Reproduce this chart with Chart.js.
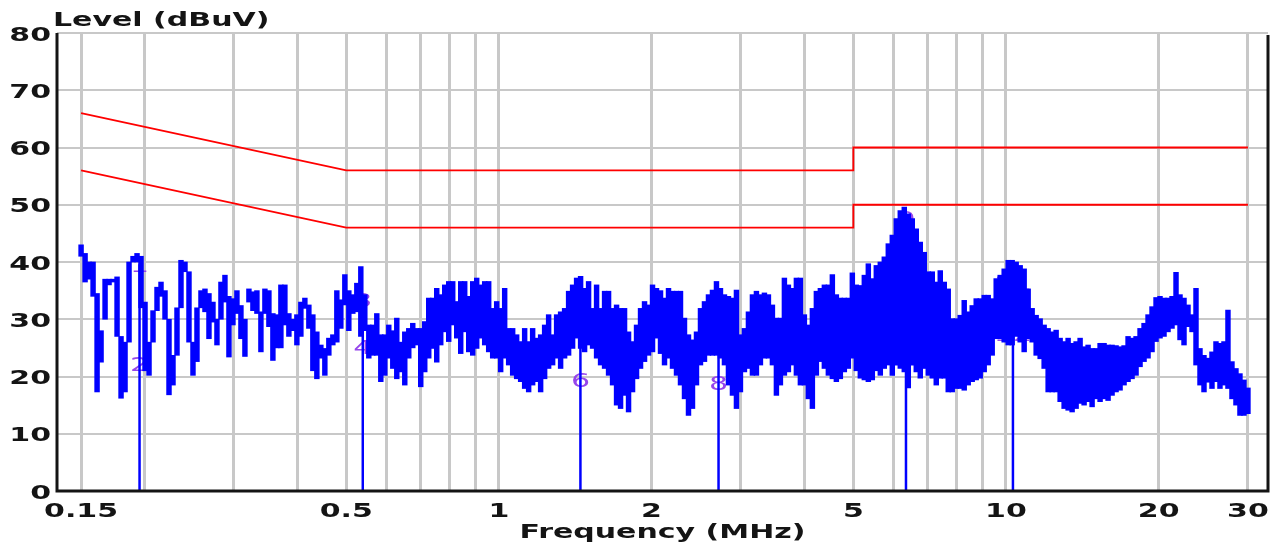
<!DOCTYPE html>
<html>
<head>
<meta charset="utf-8">
<title>Conducted emission scan</title>
<script src="https://cdn.jsdelivr.net/npm/chart.js@4.4.1/dist/chart.umd.min.js"></script>
<style>
  html, body { margin: 0; padding: 0; background: #fff; }
  #wrap { width: 1278px; height: 544px; }
</style>
</head>
<body>
<div id="wrap"><canvas id="scan" width="1278" height="544"></canvas></div>
<script>
// receiver sweep, MHz (log stepped)
var sweepStart = 0.15;
var sweepStop = 30;

// peak detector trace: max / min level of every sweep step, dBuV
var peakHi = [
  43, 41.5, 40, 40, 34.5, 28, 37, 37, 37, 37.4,
  27, 26, 40, 41, 41.5, 41, 33, 26, 31.5, 35.6,
  36.5, 35, 30, 23.7, 32, 40.3, 40, 38.3, 26, 32,
  35, 35.3, 34.5, 33, 30, 36.5, 37.7, 34, 33.6, 35,
  32.4, 30, 35.3, 34.8, 35, 31.3, 35.3, 35, 31, 30.8,
  36, 36, 31, 30, 30.8, 33, 33.7, 32.5, 30.8, 27.8,
  25.5, 24.9, 26.7, 27.3, 35, 33.4, 37.8, 35, 34.3, 36.3,
  39.2, 34.3, 29, 29, 31, 27.3, 27.3, 29, 28, 30.2,
  26, 27.8, 28.4, 29.3, 28.4, 28.4, 29.6, 33.7, 33.7, 35.4,
  34.3, 36, 36.6, 36.6, 33.1, 36.6, 36.6, 34, 36.6, 37.2,
  36, 36.6, 36.6, 31.9, 33.1, 31.9, 35.4, 28.4, 28.4, 27.3,
  26.1, 28.4, 26.1, 28.4, 26.7, 27.3, 29, 30.8, 27.3, 30.8,
  31.3, 31.9, 34.9, 36, 37.2, 37.5, 35.4, 36.6, 31.9, 36,
  31.9, 34.9, 34.9, 31.9, 32.5, 31.9, 31.9, 27.8, 26.1, 29,
  31.9, 33.1, 32.5, 36, 35.4, 35, 33.7, 35.4, 34.9, 34.9,
  34.9, 30.2, 27.3, 26.4, 27.8, 31.9, 33.1, 34.3, 35.1, 36.6,
  35.4, 34.3, 34, 33.7, 35.1, 27.3, 28.4, 31.3, 34.3, 34.9,
  34.3, 34.6, 34.3, 32.5, 30.2, 30.2, 37.2, 36, 35.4, 37.2,
  37.2, 30.8, 29, 31.9, 34.9, 35.4, 36, 36, 37.8, 34.3,
  33.7, 33.7, 33.7, 38.1, 36, 35.9, 37.7, 39.7, 37.1, 39.4,
  40, 40.9, 43.2, 44.7, 47.6, 49, 49.6, 48.4, 47.6, 45.8,
  43.5, 41.7, 38.3, 38.3, 36.5, 38.5, 36.5, 35.3, 30.1, 30.1,
  30.7, 33.3, 31.3, 32.4, 33.6, 33.6, 34.2, 34.2, 33.6, 37.1,
  37.7, 38.8, 40.3, 40.3, 40, 39.4, 38.8, 35.3, 31.9, 30.7,
  30.1, 29, 28.4, 27.8, 28.1, 26.7, 26.1, 26.7, 25.8, 26.1,
  26.7, 25.2, 25.5, 24.9, 24.9, 25.8, 25.8, 25.5, 25.5, 25.4,
  25.2, 25.4, 27, 26.7, 27, 28.4, 29.3, 30.8, 32.2, 33.8,
  34, 33.7, 33.7, 34, 38.2, 34.3, 33.7, 32.5, 30.8, 35.4,
  24.9, 23.7, 23.2, 24.3, 26.1, 25.8, 26.1, 31.6, 22.6, 21.4,
  20.5, 19.4, 18
];
var peakLo = [
  41, 36.5, 37, 34, 17.3, 22.5, 30, 36, 36.5, 27,
  16.2, 17.3, 26, 40, 40, 32, 21, 20.2, 26, 31.5,
  34, 30, 16.8, 18.5, 23.7, 32, 38.3, 26, 20.2, 22.6,
  32, 31.3, 26.6, 29.5, 25.5, 30, 33, 23.4, 29, 31,
  26.6, 23.5, 33, 31.5, 31, 24.3, 31, 28.7, 22.8, 25,
  25, 29, 27, 28, 25.5, 27, 31.9, 28.4, 21, 19.6,
  23.2, 20.2, 23.7, 25.5, 26, 28.4, 32.5, 28, 31, 31.3,
  27, 28, 23.2, 23.7, 23.7, 19.1, 20.2, 23.2, 21.4, 19.6,
  20.8, 18.5, 23.2, 25, 25.5, 18.2, 20.8, 23.2, 24.9, 22.5,
  25.5, 27.8, 26.1, 29, 26.7, 24, 27.8, 24.3, 23.7, 24.9,
  26.7, 25.5, 24.3, 23.2, 23.2, 20.8, 23.2, 22, 20.2, 19.6,
  19.1, 17.9, 17.3, 18.5, 19.1, 17.3, 19.6, 21.4, 22, 23.2,
  21.4, 23.2, 23.7, 24.9, 26.7, 24.9, 24.3, 25.5, 24.9, 23.2,
  22, 21.4, 20.2, 18.5, 15, 14.4, 16.7, 13.8, 17.3, 19.6,
  21.4, 22.6, 23.7, 24.3, 26.7, 24, 22, 23.2, 21.4, 20.2,
  18.5, 16.1, 13.2, 14.4, 18.5, 22, 22.6, 23.7, 23.7, 23.7,
  23.2, 22, 18.5, 16.7, 14.4, 17.3, 20.8, 21.4, 20.2, 20.2,
  22, 23.2, 23.2, 22, 16.7, 18.5, 20.2, 20.8, 22, 20.2,
  18.5, 18.5, 16.1, 14.4, 20.2, 22.6, 21.4, 20.2, 19.6, 19.1,
  19.6, 20.8, 21.4, 23.2, 21, 19.7, 19.4, 19.1, 19.4, 21,
  20.2, 21.4, 22, 20.2, 22, 21.4, 20.8, 18, 22, 20.8,
  19.7, 21.4, 20.2, 19.7, 18.5, 19.7, 19.7, 17.3, 17.3, 17.9,
  17.9, 17.6, 18.5, 19.1, 19.4, 19.7, 20.8, 22, 23.7, 26.6,
  26.6, 26, 25.5, 25.5, 27, 26, 24.3, 26.6, 26, 23.7,
  23.1, 21.4, 17.3, 17.3, 17.3, 15.6, 14.4, 14.1, 13.8, 14.4,
  15.3, 15, 15.6, 14.7, 16.1, 15.6, 16.1, 15.8, 16.7, 17.3,
  17.6, 18.5, 19.1, 19.6, 20.2, 21.7, 22.6, 23.2, 24.3, 26.1,
  26.7, 27, 27.8, 28.4, 29, 26.4, 25.5, 28.7, 27.8, 22,
  18.5, 17.3, 19, 17.9, 19.1, 17.9, 18.5, 17.9, 16.1, 15,
  13.2, 13.2, 13.5
];

// EN 55022 class B limits, dBuV
var limitFreq = [0.15, 0.5, 5, 5, 30];
var qpLimit = [66, 56, 56, 60, 60];
var avLimit = [56, 46, 46, 50, 50];

// final measurement points (odd = QP, even = AV)
var markerFreq = [0.1956, 0.539, 1.448, 2.711, 6.35, 10.32];
var markerQP = [39.6, 33.4, 30.4, 29.5, 47.7, 36.5];
var markerAV = [22.2, 25.3, 19.4, 19.0, 36, 27.5];

var freqGrid = [0.15, 0.2, 0.3, 0.4, 0.5, 0.6, 0.7, 0.8, 0.9, 1, 2, 3, 4, 5, 6, 7, 8, 9, 10, 20, 30];
var freqLabels = ['0.15', '0.5', '1', '2', '5', '10', '20', '30'];
var levelLabels = [0, 10, 20, 30, 40, 50, 60, 70, 80];

var BLUE = '#0000ff';
var RED = '#ff0000';
var INK = '#141414';
var STRETCH = 1.5;

function sweepFreq(i) {
  return sweepStart * Math.pow(sweepStop / sweepStart, i / (peakHi.length - 1));
}

// every sweep step is a floating column from its min to its max
var trace = peakHi.map(function (hi, i) {
  return {x: sweepFreq(i), y: [peakLo[i], hi]};
});

function pairs(xs, ys) {
  return xs.map(function (x, k) { return {x: x, y: ys[k]}; });
}

var datasets = [{
  type: 'bar',
  data: trace,
  backgroundColor: BLUE,
  borderWidth: 0,
  barThickness: 4.8,
  grouped: false
}];

markerFreq.forEach(function (f, k) {
  datasets.push({
    data: [{x: f, y: 0}, {x: f, y: markerQP[k]}],
    borderColor: BLUE,
    borderWidth: 2.5,
    pointRadius: 0
  });
});

datasets.push({
  data: pairs(limitFreq, qpLimit),
  borderColor: RED,
  borderWidth: 1.8,
  pointRadius: 0,
  tension: 0
});
datasets.push({
  data: pairs(limitFreq, avLimit),
  borderColor: RED,
  borderWidth: 1.8,
  pointRadius: 0,
  tension: 0
});

function wideText(ctx, text, x, y, align) {
  ctx.save();
  ctx.translate(x, y);
  ctx.scale(STRETCH, 1);
  ctx.textAlign = align;
  ctx.textBaseline = 'alphabetic';
  ctx.fillText(text, 0, 0);
  ctx.restore();
}

// marker numbers sit under the trace
var markerText = {
  id: 'markerText',
  beforeDatasetsDraw: function (chart) {
    var ctx = chart.ctx, xs = chart.scales.x, ys = chart.scales.y;
    ctx.save();
    ctx.font = '20px "DejaVu Sans"';
    ctx.fillStyle = 'rgb(150, 70, 235)';
    markerFreq.forEach(function (f, k) {
      var px = xs.getPixelForValue(f);
      wideText(ctx, String(2 * k + 1), px, ys.getPixelForValue(markerQP[k]) + 7.5, 'center');
      wideText(ctx, String(2 * k + 2), px, ys.getPixelForValue(markerAV[k]) + 7.5, 'center');
    });
    ctx.restore();
  }
};

var frame = {
  id: 'frame',
  afterDatasetsDraw: function (chart) {
    var ctx = chart.ctx, a = chart.chartArea;
    ctx.save();
    ctx.strokeStyle = INK;
    ctx.lineWidth = 3;
    ctx.beginPath();
    ctx.moveTo(a.left, a.top);
    ctx.lineTo(a.left, a.bottom);
    ctx.lineTo(a.right, a.bottom);
    ctx.lineTo(a.right, a.top + 2);
    ctx.stroke();
    ctx.restore();
  }
};

var axisText = {
  id: 'axisText',
  afterDraw: function (chart) {
    var ctx = chart.ctx, xs = chart.scales.x, ys = chart.scales.y, a = chart.chartArea;
    ctx.save();
    ctx.fillStyle = INK;
    ctx.font = 'bold 20px "DejaVu Sans"';
    levelLabels.forEach(function (v) {
      wideText(ctx, String(v), 51, ys.getPixelForValue(v) + 7.5, 'right');
    });
    freqLabels.forEach(function (t) {
      wideText(ctx, t, xs.getPixelForValue(parseFloat(t)), 517, 'center');
    });
    wideText(ctx, 'Level (dBuV)', 53, 26, 'left');
    wideText(ctx, 'Frequency (MHz)', (a.left + a.right) / 2, 538, 'center');
    ctx.restore();
  }
};

new Chart(document.getElementById('scan'), {
  type: 'line',
  data: {datasets: datasets},
  options: {
    responsive: false,
    animation: false,
    events: [],
    layout: {padding: {left: 57, top: 33, right: 10, bottom: 53}},
    plugins: {legend: {display: false}, tooltip: {enabled: false}},
    scales: {
      x: {
        type: 'logarithmic',
        min: 0.13446,
        max: 32.86,
        offset: false,
        afterBuildTicks: function (scale) {
          scale.ticks = freqGrid.map(function (v) { return {value: v}; });
        },
        ticks: {display: false},
        border: {display: false},
        grid: {color: '#c8c8c8', lineWidth: 3, drawTicks: false, offset: false}
      },
      y: {
        min: 0,
        max: 80,
        ticks: {display: false, stepSize: 10},
        border: {display: false},
        grid: {color: '#c8c8c8', lineWidth: 2, drawTicks: false}
      }
    }
  },
  plugins: [markerText, frame, axisText]
});
</script>
</body>
</html>
